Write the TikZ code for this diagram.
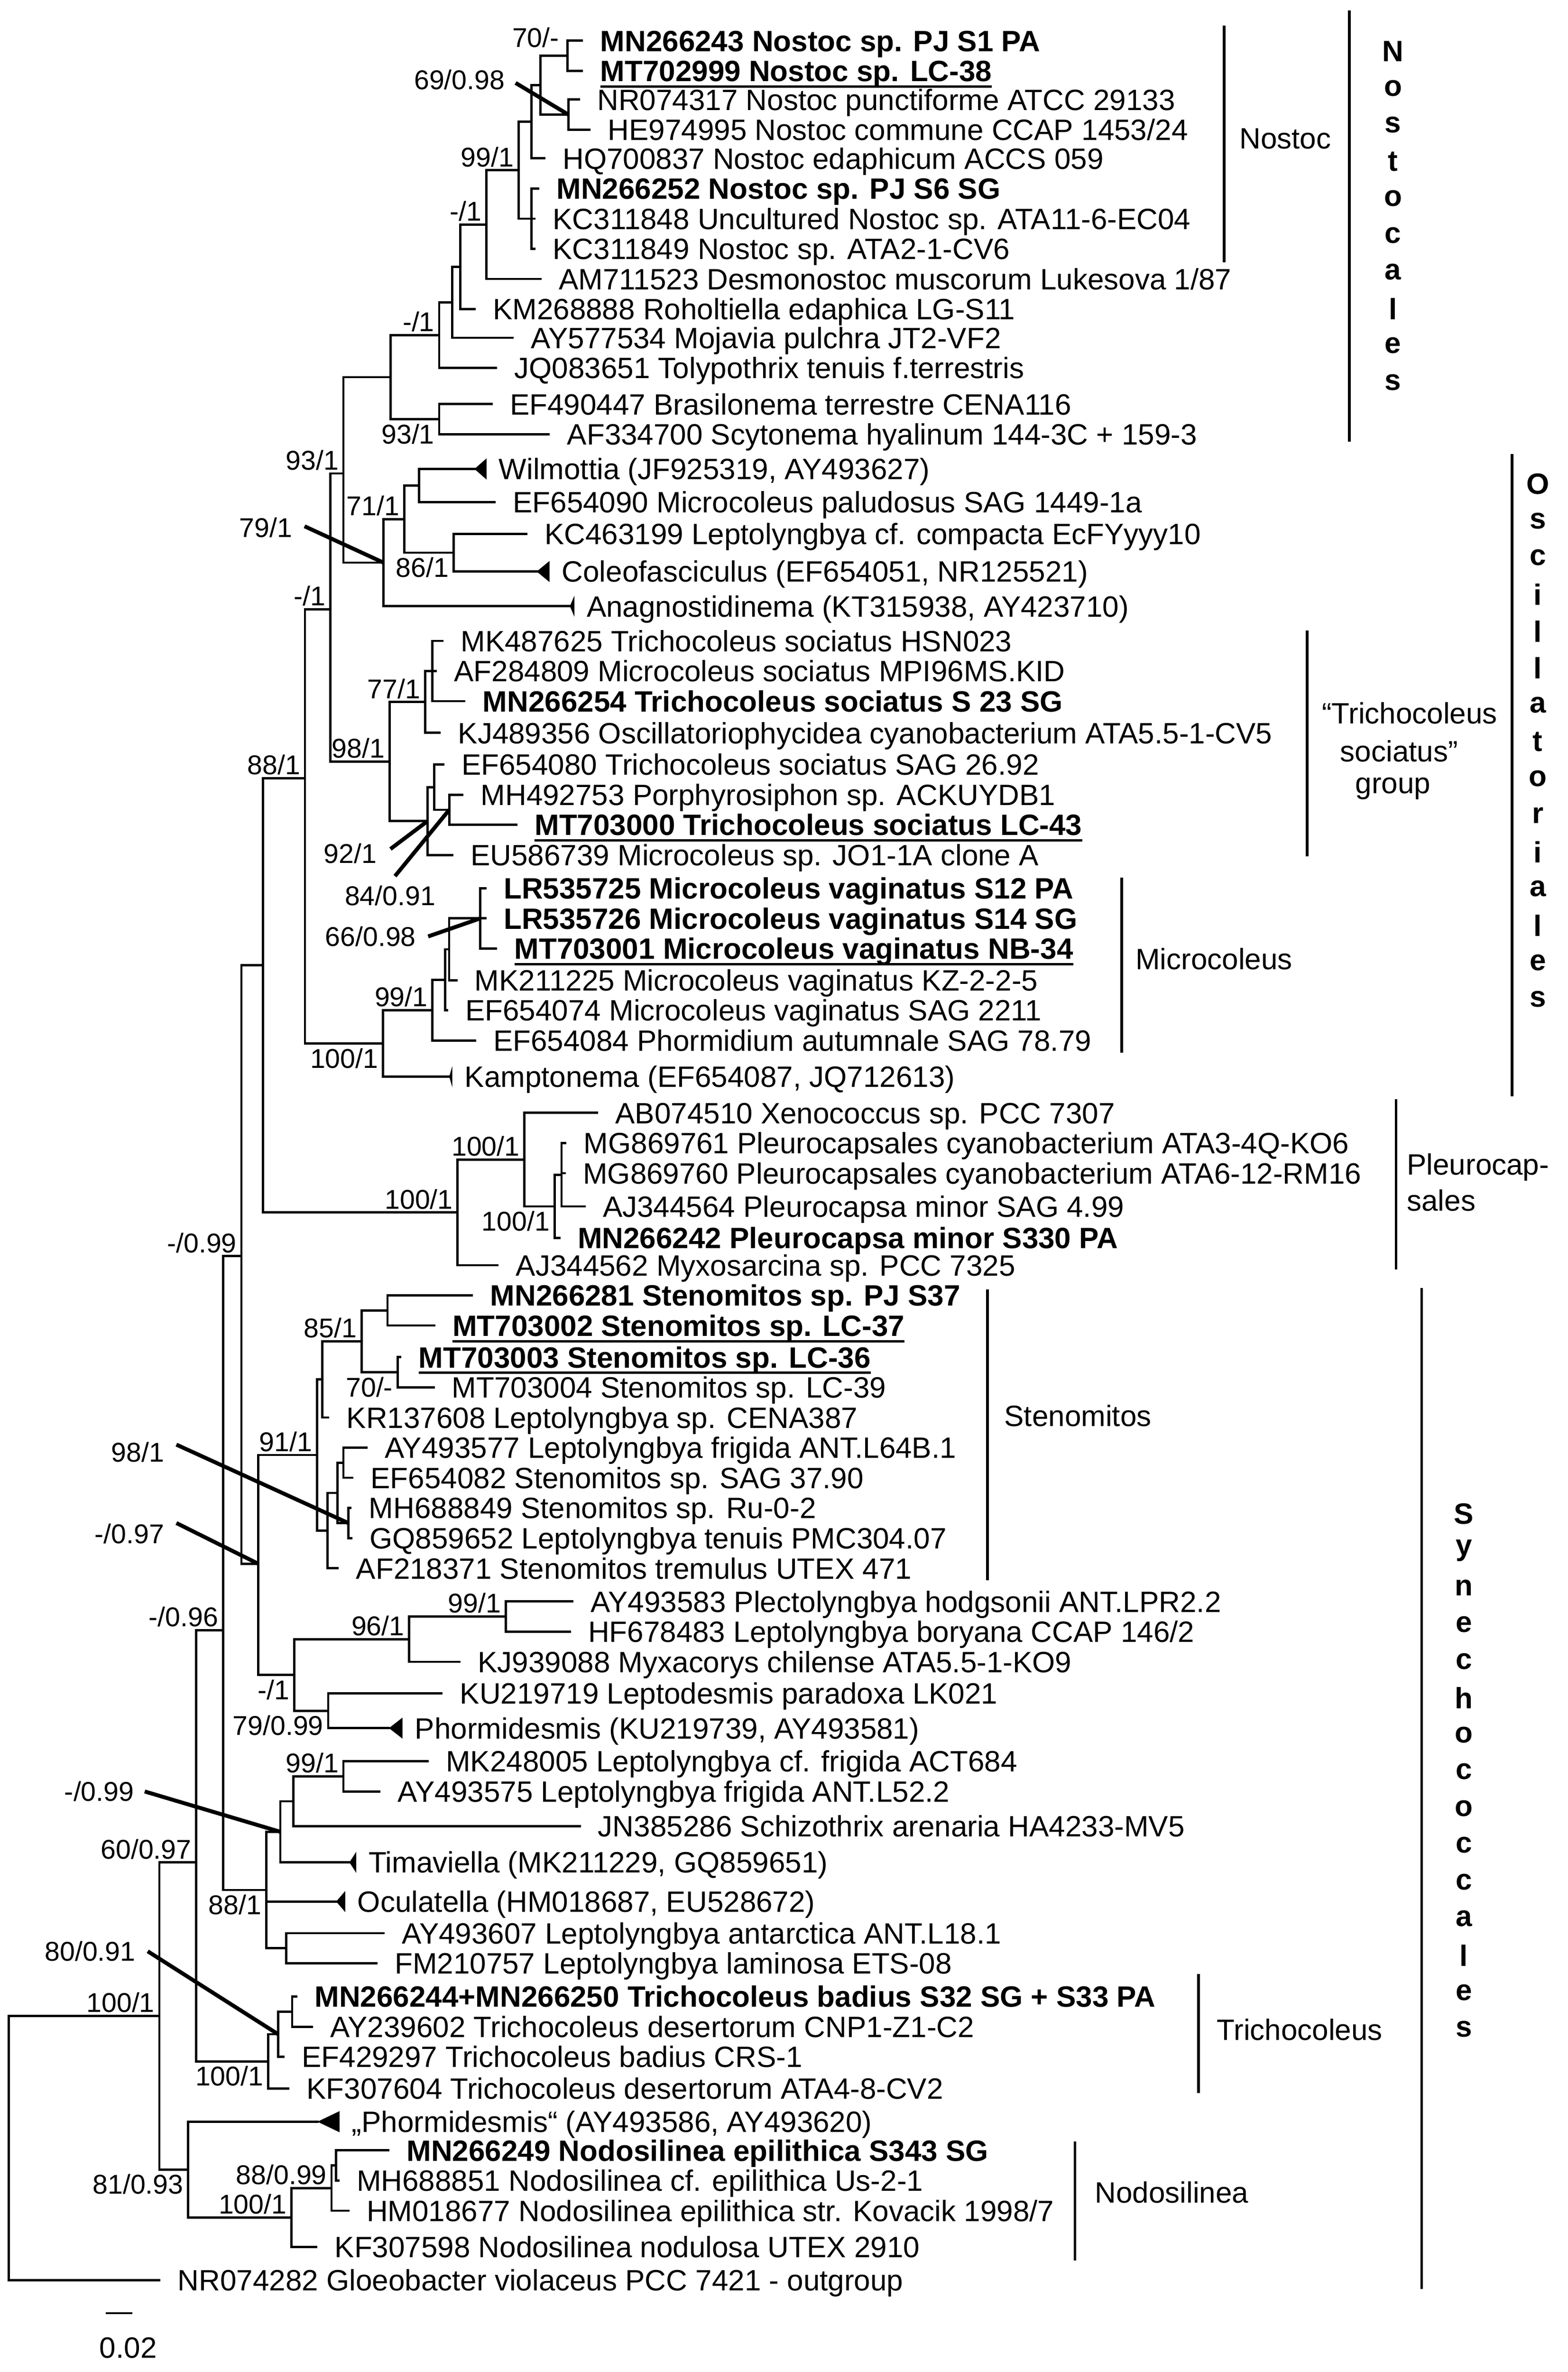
\documentclass[tikz,border=0pt]{standalone}
\usepackage{fontspec}
\setmainfont{Liberation Sans}
\usetikzlibrary{calc}
\newcommand\lf{\fontsize{19.5}{22}\selectfont}
\newcommand\labf{\fontsize{18}{20}\selectfont}
\tikzset{
  br/.style={line width=1.5pt, line cap=rect},
  ptr/.style={line width=2.6pt},
  bar/.style={line width=1.8pt},
  leaf/.style={anchor=base west, inner sep=0pt, font=\lf},
  lab/.style={inner sep=0pt, font=\labf},
  ord/.style={inner sep=0pt, font=\lf\bfseries},
  cl/.style={anchor=west, inner sep=0pt, font=\lf}
}
\newcommand\leaf[4]{\coordinate (#1) at (#2,#3); \node[leaf] (#1t) at ([xshift=12pt,yshift=-7pt]#1) {#4};}
\newcommand\cleaf[5]{\coordinate (#1) at (#2,#3); \fill (#1) -- ++(#4,-7) -- ++(0,14) -- cycle;
  \node[leaf] (#1t) at ([xshift=#4pt,xshift=8pt,yshift=-7pt]#1) {#5};}
\newcommand\drawnode[3]{\draw[br] (#1 |- #2) -- (#1 |- #3); \draw[br] (#1 |- #2) -- (#2); \draw[br] (#1 |- #3) -- (#3);}
\newcommand\inode[4]{\coordinate (#1m) at ($(#3)!0.5!(#4)$); \coordinate (#1) at (#2,0 |- #1m); \drawnode{#1}{#3}{#4}}
\newcommand\inodeY[5]{\coordinate (#1) at (#2,#3); \drawnode{#1}{#4}{#5}}
\newcommand\conn[2]{\draw[br] (#1 |- #2) -- (#2);}
\newcommand\labA[2]{\node[lab, anchor=south east] (lb#1) at ([xshift=-3pt,yshift=2pt]#1) {#2};}
\newcommand\labB[2]{\node[lab, anchor=north east] (lb#1) at ([xshift=-3pt,yshift=-3pt]#1) {#2};}
\newcommand\B[1]{\textbf{#1}}
\newsavebox\ubox
\newcommand\BU[1]{\sbox\ubox{\textbf{#1}}\rlap{\vrule width\wd\ubox height -2.6pt depth 4.2pt}\usebox\ubox}
\begin{document}
\begin{tikzpicture}[x=1pt,y=-1pt]
\useasboundingbox[fill=white] (0,0) rectangle (1040,1573);
% leaves
\leaf{L1}{386}{27}{\B{MN266243 Nostoc sp. PJ S1 PA}}
\leaf{L2}{386}{47}{\BU{MT702999 Nostoc sp. LC-38}}
\leaf{L3}{384}{66}{NR074317 Nostoc punctiforme ATCC 29133}
\leaf{L4}{391}{86}{HE974995 Nostoc commune CCAP 1453/24}
\leaf{L5}{361}{105}{HQ700837 Nostoc edaphicum ACCS 059}
\leaf{L6}{357}{125}{\B{MN266252 Nostoc sp. PJ S6 SG}}
\leaf{L7}{354.5}{145}{KC311848 Uncultured Nostoc sp. ATA11-6-EC04}
\leaf{L8}{354.5}{165}{KC311849 Nostoc sp. ATA2-1-CV6}
\leaf{L9}{358.5}{185}{AM711523 Desmonostoc muscorum Lukesova 1/87}
\leaf{L10}{314.7}{205}{KM268888 Roholtiella edaphica LG-S11}
\leaf{L11}{340}{224}{AY577534 Mojavia pulchra JT2-VF2}
\leaf{L12}{329}{244}{JQ083651 Tolypothrix tenuis f.terrestris}
\leaf{L13}{326}{268}{EF490447 Brasilonema terrestre CENA116}
\leaf{L14}{364}{288}{AF334700 Scytonema hyalinum 144-3C + 159-3}
\cleaf{Wil}{314.7}{311}{8}{Wilmottia (JF925319, AY493627)}
\leaf{L16}{328}{333}{EF654090 Microcoleus paludosus SAG 1449-1a}
\leaf{L17}{349}{354}{KC463199 Leptolyngbya cf. compacta EcFYyyy10}
\cleaf{Col}{356}{379}{8.5}{Coleofasciculus (EF654051, NR125521)}
\cleaf{Ana}{378}{402}{3}{Anagnostidinema (KT315938, AY423710)}
\leaf{L20}{293.4}{425}{MK487625 Trichocoleus sociatus HSN023}
\leaf{L21}{289}{445}{AF284809 Microcoleus sociatus MPI96MS.KID}
\leaf{L22}{308}{465}{\B{MN266254 Trichocoleus sociatus S 23 SG}}
\leaf{L23}{291.6}{486}{KJ489356 Oscillatoriophycidea cyanobacterium ATA5.5-1-CV5}
\leaf{L24}{294}{507}{EF654080 Trichocoleus sociatus SAG 26.92}
\leaf{L25}{306.7}{527}{MH492753 Porphyrosiphon sp. ACKUYDB1}
\leaf{L26}{342.5}{547}{\BU{MT703000 Trichocoleus sociatus LC-43}}
\leaf{L27}{300}{567}{EU586739 Microcoleus sp. JO1-1A clone A}
\leaf{L28}{322}{589}{\B{LR535725 Microcoleus vaginatus S12 PA}}
\leaf{L29}{322}{609}{\B{LR535726 Microcoleus vaginatus S14 SG}}
\leaf{L30}{329}{629}{\BU{MT703001 Microcoleus vaginatus NB-34}}
\leaf{L31}{302.7}{650}{MK211225 Microcoleus vaginatus KZ-2-2-5}
\leaf{L32}{296.5}{670}{EF654074 Microcoleus vaginatus SAG 2211}
\leaf{L33}{315}{690}{EF654084 Phormidium autumnale SAG 78.79}
\cleaf{Kam}{298}{714}{2}{Kamptonema (EF654087, JQ712613)}
\leaf{L35}{396}{738}{AB074510 Xenococcus sp. PCC 7307}
\leaf{L36}{375}{758}{MG869761 Pleurocapsales cyanobacterium ATA3-4Q-KO6}
\leaf{L37}{374.5}{778}{MG869760 Pleurocapsales cyanobacterium ATA6-12-RM16}
\leaf{L38}{387.7}{800}{AJ344564 Pleurocapsa minor SAG 4.99}
\leaf{L39}{371}{821}{\B{MN266242 Pleurocapsa minor S330 PA}}
\leaf{L40}{330}{839}{AJ344562 Myxosarcina sp. PCC 7325}
\leaf{L41}{313}{859}{\B{MN266281 Stenomitos sp. PJ S37}}
\leaf{L42}{288}{879}{\BU{MT703002 Stenomitos sp. LC-37}}
\leaf{L43}{265.5}{900}{\BU{MT703003 Stenomitos sp. LC-36}}
\leaf{L44}{287.6}{920}{MT703004 Stenomitos sp. LC-39}
\leaf{L45}{217.7}{940}{KR137608 Leptolyngbya sp. CENA387}
\leaf{L46}{243}{960}{AY493577 Leptolyngbya frigida ANT.L64B.1}
\leaf{L47}{233.7}{980}{EF654082 Stenomitos sp. SAG 37.90}
\leaf{L48}{232.5}{1000}{MH688849 Stenomitos sp. Ru-0-2}
\leaf{L49}{233}{1020}{GQ859652 Leptolyngbya tenuis PMC304.07}
\leaf{L50}{224}{1040}{AF218371 Stenomitos tremulus UTEX 471}
\leaf{L51}{379.7}{1062}{AY493583 Plectolyngbya hodgsonii ANT.LPR2.2}
\leaf{L52}{377.9}{1082}{HF678483 Leptolyngbya boryana CCAP 146/2}
\leaf{L53}{304.8}{1102}{KJ939088 Myxacorys chilense ATA5.5-1-KO9}
\leaf{L54}{292.9}{1123}{KU219719 Leptodesmis paradoxa LK021}
\cleaf{Phm}{258}{1146}{9}{Phormidesmis (KU219739, AY493581)}
\leaf{L56}{283.6}{1168}{MK248005 Leptolyngbya cf. frigida ACT684}
\leaf{L57}{251.7}{1188}{AY493575 Leptolyngbya frigida ANT.L52.2}
\leaf{L58}{384.5}{1211}{JN385286 Schizothrix arenaria HA4233-MV5}
\cleaf{Tim}{231.8}{1235}{4.5}{Timaviella (MK211229, GQ859651)}
\cleaf{Ocu}{223}{1261}{6}{Oculatella (HM018687, EU528672)}
\leaf{L61}{254.4}{1282}{AY493607 Leptolyngbya antarctica ANT.L18.1}
\leaf{L62}{249.6}{1302}{FM210757 Leptolyngbya laminosa ETS-08}
\leaf{L63}{196.5}{1324}{\B{MN266244+MN266250 Trichocoleus badius S32 SG + S33 PA}}
\leaf{L64}{207}{1344}{AY239602 Trichocoleus desertorum CNP1-Z1-C2}
\leaf{L65}{188}{1364}{EF429297 Trichocoleus badius CRS-1}
\leaf{L66}{191.2}{1385}{KF307604 Trichocoleus desertorum ATA4-8-CV2}
\cleaf{Phq}{210.6}{1407}{14.6}{„Phormidesmis“ (AY493586, AY493620)}
\leaf{L68}{257.6}{1426}{\B{MN266249 Nodosilinea epilithica S343 SG}}
\leaf{L69}{224.4}{1446}{MH688851 Nodosilinea cf. epilithica Us-2-1}
\leaf{L70}{231}{1466}{HM018677 Nodosilinea epilithica str. Kovacik 1998/7}
\leaf{L71}{209.8}{1490}{KF307598 Nodosilinea nodulosa UTEX 2910}
\leaf{OG}{105.7}{1512}{NR074282 Gloeobacter violaceus PCC 7421 - outgroup}
% internal nodes
\inode{A}{376.5}{L1}{L2}
\inode{B}{377}{L3}{L4}
\inode{C}{358.5}{A}{B}
\inode{D}{352.4}{C}{L5}
\inode{E}{352.4}{L6}{L8}\conn{E}{L7}
\inode{F}{343.9}{D}{E}
\inode{G}{322.6}{F}{L9}
\inode{H}{305.4}{G}{L10}
\inode{I}{300}{H}{L11}
\inode{J}{291.3}{I}{L12}
\inode{K}{291.3}{L13}{L14}
\inode{LN}{259}{J}{K}
\inode{P}{278}{Wil}{L16}
\inode{R}{300.8}{L17}{Col}
\inode{Q}{268.2}{P}{R}
\inode{N}{254.4}{Q}{Ana}
\inodeY{M}{227.8}{314}{LN}{N}
\inode{W}{286.8}{L20}{L22}\conn{W}{L21}
\inode{U}{282}{W}{L23}
\inode{Y}{298}{L25}{L26}
\inode{X}{288}{L24}{Y}
\inode{V}{283.6}{X}{L27}
\inode{T}{258.4}{U}{V}
\inodeY{S}{219}{404}{M}{T}
\inode{AF}{318.6}{L28}{L30}\conn{AF}{L29}
\inode{AE}{297.9}{AF}{L31}
\inode{AC}{295.3}{AE}{L32}
\inode{AB}{286.8}{AC}{L33}
\inode{AA}{254}{AB}{Kam}
\inodeY{Z}{202.3}{516}{S}{AA}
\inode{AJ}{372.5}{L36}{L38}\conn{AJ}{L37}
\inode{AI}{367.8}{AJ}{L39}
\inode{AH}{347.8}{L35}{AI}
\inode{AG}{303.5}{AH}{L40}
\inodeY{AK}{174.5}{640}{Z}{AG}
\inode{AS}{257}{L41}{L42}
\inode{AT}{263.7}{L43}{L44}
\inode{AR}{239.8}{AS}{AT}
\inode{AP}{213.8}{AR}{L45}
\inode{AV}{227.8}{L46}{L47}
\inode{AW}{231}{L48}{L49}
\inode{AU}{223.8}{AV}{AW}
\inode{AQ}{217.2}{AU}{L50}
\inode{AN}{210.3}{AP}{AQ}
\inode{AZ}{335.4}{L51}{L52}
\inode{AX}{271.4}{AZ}{L53}
\inode{AY}{217.7}{L54}{Phm}
\inode{AO}{195.2}{AX}{AY}
\inodeY{AM}{171.3}{1037}{AN}{AO}
\inodeY{AL}{160.1}{833}{AK}{AM}
\inode{BA}{227.8}{L56}{L57}
\inode{BB}{194.6}{BA}{L58}
\inode{BC}{185.9}{BB}{Tim}
\inode{BE}{189.9}{L61}{L62}
\inode{BD}{176.6}{BC}{BE}\conn{BD}{Ocu}
\inodeY{BG}{147.9}{1081}{AL}{BD}
\inode{BJ}{193.8}{L63}{L64}
\inode{BI}{184.5}{BJ}{L65}
\inode{BH}{177.9}{BI}{L66}
\inodeY{BF}{130.1}{1235}{BG}{BH}
\inode{BO}{223}{L68}{L69}
\inode{BN}{219.9}{BO}{L70}
\inode{BM}{193.3}{BN}{L71}
\inode{BL}{124.8}{Phq}{BM}
\inode{BK}{105.7}{BF}{BL}
\inode{RT}{5.8}{BK}{OG}
% support values
\node[lab, anchor=east] (l70a) at (371,25) {70/-};
\labA{F}{99/1}\labA{G}{-/1}\labA{J}{-/1}\labB{K}{93/1}\labA{M}{93/1}
\labA{Q}{71/1}\labB{R}{86/1}\labA{S}{-/1}\labA{U}{77/1}\labA{T}{98/1}\labA{Z}{88/1}
\labA{AB}{99/1}\labB{AA}{100/1}\labA{AH}{100/1}\labA{AG}{100/1}\labB{AI}{100/1}
\labA{AL}{-/0.99}\labA{AR}{85/1}\labB{AT}{70/-}\labA{AN}{91/1}\labA{BG}{-/0.96}
\labA{AX}{96/1}\labA{AZ}{99/1}\labB{AO}{-/1}\labB{AY}{79/0.99}\labA{BA}{99/1}
\labA{BF}{60/0.97}\labB{BD}{88/1}\labA{BK}{100/1}\labB{BH}{100/1}\labB{BL}{81/0.93}
\labA{BN}{88/0.99}\labA{BM}{100/1}
% pointer labels
\node[lab, anchor=east] (p1l) at (335,53) {69/0.98}; \coordinate (p1) at (342,55); \draw[ptr] (p1) -- (B);
\node[lab, anchor=east] (p2l) at (194,350) {79/1}; \coordinate (p2) at (202,349); \draw[ptr] (p2) -- (N);
\node[lab, anchor=east] (p3l) at (250,566) {92/1}; \coordinate (p3) at (259,563); \draw[ptr] (p3) -- (V);
\node[lab, anchor=east] (p4l) at (289,594) {84/0.91}; \coordinate (p4) at (262,581); \draw[ptr] (p4) -- (Y);
\node[lab, anchor=east] (p5l) at (276,621) {66/0.98}; \coordinate (p5) at (284,621); \draw[ptr] (p5) -- (AF);
\node[lab, anchor=east] (p6l) at (109,963) {98/1}; \coordinate (p6) at (117,958); \draw[ptr] (p6) -- (AW);
\node[lab, anchor=east] (p7l) at (109,1017) {-/0.97}; \coordinate (p7) at (117,1010); \draw[ptr] (p7) -- (AM);
\node[lab, anchor=east] (p8l) at (89,1188) {-/0.99}; \coordinate (p8) at (96,1188); \draw[ptr] (p8) -- (BC);
\node[lab, anchor=east] (p9l) at (90,1294) {80/0.91}; \coordinate (p9) at (98,1294); \draw[ptr] (p9) -- (BI);
% scale bar
\coordinate (sb1) at (71,1534); \coordinate (sb2) at (87,1534); \draw[br] (sb1) -- (sb2);
\node[lab, font=\lf] (sbt) at (85,1557) {0.02};
% clade bars
\coordinate (b1a) at (812,17); \coordinate (b1b) at (812,174); \draw[bar] (b1a) -- (b1b);
\node[cl] (t1) at (822,92) {Nostoc};
\coordinate (b2a) at (895,7); \coordinate (b2b) at (895,293); \draw[bar] (b2a) -- (b2b);
\foreach \c [count=\i from 0] in {N,o,s,t,o,c,a,l,e,s} \node[ord] (nos\i) at (924,{34+24.4*\i}) {\c};
\coordinate (b3a) at (1003,301); \coordinate (b3b) at (1003,727); \draw[bar] (b3a) -- (b3b);
\foreach \c [count=\i from 0] in {O,s,c,i,l,l,a,t,o,r,i,a,l,e,s} \node[ord] (osc\i) at (1020,{321+24.4*\i}) {\c};
\coordinate (b4a) at (867,418); \coordinate (b4b) at (867,568); \draw[bar] (b4a) -- (b4b);
\node[inner sep=0pt, font=\lf] (t4a) at (935,473) {“Trichocoleus};
\node[inner sep=0pt, font=\lf] (t4b) at (928,498) {sociatus”};
\node[inner sep=0pt, font=\lf] (t4c) at (924,523) {group};
\coordinate (b5a) at (744,582); \coordinate (b5b) at (744,698); \draw[bar] (b5a) -- (b5b);
\node[cl] (t5) at (753,636) {Microcoleus};
\coordinate (b6a) at (926,729); \coordinate (b6b) at (926,842); \draw[bar] (b6a) -- (b6b);
\node[cl] (t6a) at (933,774) {Pleurocap-};
\node[cl] (t6b) at (933,796) {sales};
\coordinate (b7a) at (655,855); \coordinate (b7b) at (655,1048); \draw[bar] (b7a) -- (b7b);
\node[cl] (t7) at (666,939) {Stenomitos};
\coordinate (b8a) at (943,854); \coordinate (b8b) at (943,1518); \draw[bar] (b8a) -- (b8b);
\foreach \c [count=\i from 0] in {S,y,n,e,c,h,o,c,o,c,c,a,l,e,s} \node[ord] (syn\i) at (971,{1004+24.4*\i}) {\c};
\coordinate (b9a) at (795,1309); \coordinate (b9b) at (795,1388); \draw[bar] (b9a) -- (b9b);
\node[cl] (t9) at (807,1346) {Trichocoleus};
\coordinate (b10a) at (713,1420); \coordinate (b10b) at (713,1499); \draw[bar] (b10a) -- (b10b);
\node[cl] (t10) at (726,1454) {Nodosilinea};
\end{tikzpicture}
\end{document}
